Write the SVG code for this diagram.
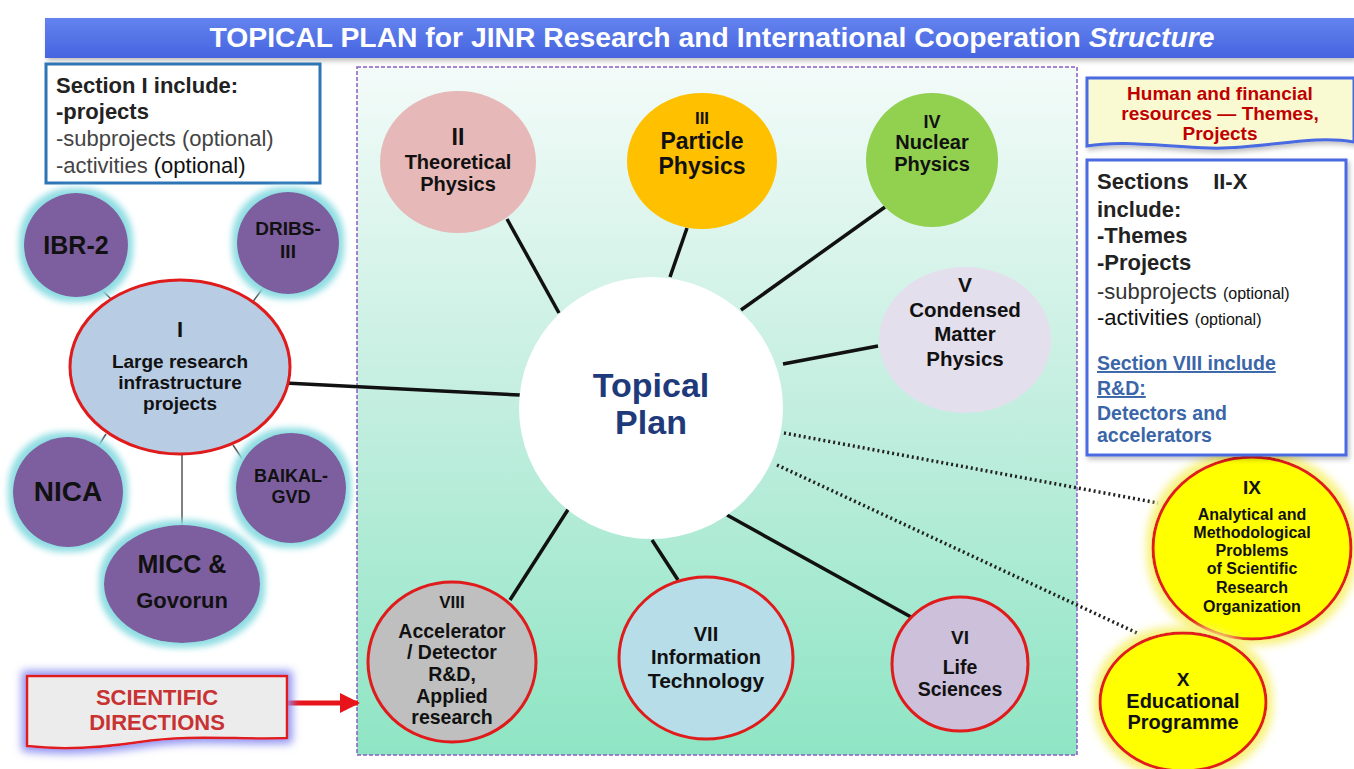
<svg xmlns="http://www.w3.org/2000/svg" width="1354" height="769" viewBox="0 0 1354 769">
<defs>
<linearGradient id="titleG" x1="0" y1="0" x2="0" y2="1"><stop offset="0" stop-color="#6383ee"/><stop offset="1" stop-color="#4664e0"/></linearGradient>
<linearGradient id="panelG" x1="0" y1="0" x2="0" y2="1"><stop offset="0" stop-color="#f3fbf9"/><stop offset="0.5" stop-color="#c2eedf"/><stop offset="1" stop-color="#8ee5c4"/></linearGradient>
<filter id="cyanGlow" x="-30%" y="-30%" width="160%" height="160%">
<feMorphology in="SourceAlpha" operator="dilate" radius="5" result="d"/>
<feGaussianBlur in="d" stdDeviation="3" result="b"/>
<feFlood flood-color="#8fdde3"/><feComposite in2="b" operator="in" result="g"/>
<feMerge><feMergeNode in="g"/><feMergeNode in="SourceGraphic"/></feMerge></filter>
<filter id="yellowGlow" x="-30%" y="-30%" width="160%" height="160%">
<feMorphology in="SourceAlpha" operator="dilate" radius="5" result="d"/>
<feGaussianBlur in="d" stdDeviation="4" result="b"/>
<feFlood flood-color="#f7f27a"/><feComposite in2="b" operator="in" result="g"/>
<feMerge><feMergeNode in="g"/><feMergeNode in="SourceGraphic"/></feMerge></filter>
<filter id="blueGlow" x="-20%" y="-40%" width="140%" height="180%">
<feMorphology in="SourceAlpha" operator="dilate" radius="4" result="d"/>
<feGaussianBlur in="d" stdDeviation="4" result="b"/>
<feFlood flood-color="#8f92f0"/><feComposite in2="b" operator="in" result="g"/>
<feMerge><feMergeNode in="g"/><feMergeNode in="SourceGraphic"/></feMerge></filter>
<filter id="shadow" x="-20%" y="-20%" width="140%" height="140%">
<feGaussianBlur in="SourceAlpha" stdDeviation="2.5"/><feOffset dx="2" dy="3" result="s"/>
<feFlood flood-color="#000" flood-opacity="0.25"/><feComposite in2="s" operator="in" result="sh"/>
<feMerge><feMergeNode in="sh"/><feMergeNode in="SourceGraphic"/></feMerge></filter>
<marker id="redArrow" viewBox="0 0 10 10" refX="9" refY="5" markerWidth="4" markerHeight="4" orient="auto"><path d="M0,0 L10,5 L0,10 z" fill="#e8141c"/></marker>
</defs>
<style>
text{font-family:"Liberation Sans",Arial,sans-serif;font-weight:bold;fill:#111;text-anchor:middle}
.l{text-anchor:start}
.reg{font-weight:normal}
.purple{fill:#7d5fa0}
.cyan{filter:url(#cyanGlow)}
.sub{stroke:#555;stroke-width:1.5}
.main{stroke:#111;stroke-width:3.5}
.dot{stroke:#222;stroke-width:3.5;stroke-dasharray:2 3}
.redring{stroke:#e01b1b;stroke-width:3}
</style>
<rect x="0" y="0" width="1354" height="769" fill="#ffffff"/>

<g id="title">
<rect x="45" y="18" width="1309" height="40" fill="url(#titleG)" filter="url(#shadow)"/>
<text x="712" y="47" font-size="27" style="fill:#fff" textLength="1005" lengthAdjust="spacingAndGlyphs">TOPICAL PLAN for JINR Research and International Cooperation <tspan font-style="italic">Structure</tspan></text>
</g>

<g id="panel">
<rect x="357" y="67" width="720" height="688" fill="url(#panelG)" stroke="#8a5cc8" stroke-width="1.5" stroke-dasharray="4 2"/>
</g>

<g id="connectors">
<line class="main" x1="285" y1="383" x2="520" y2="395"/>
<line class="sub" x1="100" y1="288" x2="112" y2="300"/>
<line class="sub" x1="263" y1="288" x2="252" y2="303"/>
<line class="sub" x1="99" y1="445" x2="106" y2="434"/>
<line class="sub" x1="233" y1="445" x2="243" y2="460"/>
<line class="sub" x1="182" y1="453" x2="182" y2="525"/>
<line class="main" x1="507" y1="219" x2="559" y2="313"/>
<line class="main" x1="687" y1="228" x2="670" y2="277"/>
<line class="main" x1="885" y1="207" x2="741" y2="310"/>
<line class="main" x1="878" y1="346" x2="783" y2="364"/>
<line class="main" x1="569" y1="508" x2="510" y2="600"/>
<line class="main" x1="652" y1="540" x2="678" y2="580"/>
<line class="main" x1="727" y1="515" x2="911" y2="617"/>
<line class="dot" x1="784" y1="433" x2="1158" y2="503"/>
<line class="dot" x1="777" y1="465" x2="1137" y2="633"/>
<line x1="287" y1="703" x2="358" y2="703" stroke="#e8141c" stroke-width="5" marker-end="url(#redArrow)"/>
</g>

<g id="section1-box">
<rect x="46" y="64" width="274" height="119" fill="#fff" stroke="#2e75b6" stroke-width="3"/>
<text class="l" x="56" y="93" font-size="22" style="fill:#222">Section I include:</text>
<text class="l" x="56" y="119" font-size="22" style="fill:#222">-projects</text>
<text class="l reg" x="56" y="146" font-size="22" style="fill:#444">-subprojects (optional)</text>
<text class="l reg" x="56" y="173" font-size="22" style="fill:#444">-activities <tspan style="fill:#111">(optional)</tspan></text>
</g>

<g id="node-ibr2"><circle class="purple cyan" cx="76" cy="245" r="52"/><text x="76" y="254" font-size="25">IBR-2</text></g>
<g id="node-dribs"><circle class="purple cyan" cx="288" cy="243" r="51"/><text x="288" y="235" font-size="19">DRIBS-</text><text x="288" y="258" font-size="19">III</text></g>
<g id="node-nica"><circle class="purple cyan" cx="68" cy="492" r="55"/><text x="68" y="501" font-size="28">NICA</text></g>
<g id="node-baikal"><circle class="purple cyan" cx="291" cy="488" r="55"/><text x="291" y="482" font-size="18">BAIKAL-</text><text x="291" y="503" font-size="18">GVD</text></g>
<g id="node-micc"><ellipse class="purple cyan" cx="182" cy="584" rx="78" ry="59"/><text x="182" y="573" font-size="25">MICC &amp;</text><text x="182" y="608" font-size="22">Govorun</text></g>

<g id="node-I">
<ellipse cx="180" cy="367" rx="110" ry="87" fill="#b8cce4" class="redring"/>
<text x="180" y="337" font-size="22">I</text>
<text x="180" y="368" font-size="19">Large research</text>
<text x="180" y="389" font-size="19">infrastructure</text>
<text x="180" y="410" font-size="19">projects</text>
</g>

<g id="node-scidir">
<path d="M27,676 H287 V738 C240,740 190,734 140,742 C100,748 60,750 27,746 Z" fill="#ececec" stroke="#e01b1b" stroke-width="2.5" filter="url(#blueGlow)"/>
<text x="157" y="705" font-size="22" style="fill:#c83232">SCIENTIFIC</text>
<text x="157" y="730" font-size="22" style="fill:#c83232">DIRECTIONS</text>
</g>

<g id="node-II">
<ellipse cx="458" cy="162" rx="78" ry="71" fill="#e6b8b7"/>
<text x="458" y="145" font-size="23">II</text>
<text x="458" y="169" font-size="20">Theoretical</text>
<text x="458" y="191" font-size="20">Physics</text>
</g>
<g id="node-III">
<ellipse cx="702" cy="161" rx="75" ry="68" fill="#ffc000"/>
<text x="702" y="124" font-size="17">III</text>
<text x="702" y="149" font-size="23">Particle</text>
<text x="702" y="174" font-size="23">Physics</text>
</g>
<g id="node-IV">
<ellipse cx="932" cy="160" rx="66" ry="67" fill="#92d050"/>
<text x="932" y="128" font-size="18">IV</text>
<text x="932" y="149" font-size="20">Nuclear</text>
<text x="932" y="171" font-size="20">Physics</text>
</g>
<g id="node-V">
<ellipse cx="965" cy="340" rx="86" ry="73" fill="#e4dfec"/>
<text x="965" y="292" font-size="21">V</text>
<text x="965" y="317" font-size="20.5">Condensed</text>
<text x="965" y="341" font-size="20.5">Matter</text>
<text x="965" y="366" font-size="20.5">Physics</text>
</g>

<g id="node-topical">
<ellipse cx="651" cy="408" rx="132" ry="131" fill="#ffffff"/>
<text x="651" y="397" font-size="34" style="fill:#1f3a7a">Topical</text>
<text x="651" y="434" font-size="34" style="fill:#1f3a7a">Plan</text>
</g>

<g id="node-VIII">
<ellipse cx="452" cy="662" rx="84" ry="80" fill="#bfbfbf" class="redring"/>
<text x="452" y="608" font-size="17">VIII</text>
<text x="452" y="638" font-size="19.5">Accelerator</text>
<text x="452" y="659" font-size="19.5">/ Detector</text>
<text x="452" y="681" font-size="19.5">R&amp;D,</text>
<text x="452" y="703" font-size="19.5">Applied</text>
<text x="452" y="724" font-size="19.5">research</text>
</g>
<g id="node-VII">
<ellipse cx="706" cy="658" rx="87" ry="81" fill="#b7dde8" class="redring"/>
<text x="706" y="641" font-size="20">VII</text>
<text x="706" y="664" font-size="20">Information</text>
<text x="706" y="688" font-size="21">Technology</text>
</g>
<g id="node-VI">
<ellipse cx="960" cy="664" rx="68" ry="67" fill="#ccc0da" class="redring"/>
<text x="960" y="644" font-size="19">VI</text>
<text x="960" y="674" font-size="19.5">Life</text>
<text x="960" y="696" font-size="19.5">Sciences</text>
</g>

<g id="node-IX">
<ellipse cx="1252" cy="548" rx="99" ry="91" fill="#ffff00" stroke="#e01b1b" stroke-width="3" filter="url(#yellowGlow)"/>
<text x="1252" y="494" font-size="19">IX</text>
<text x="1252" y="520" font-size="16">Analytical and</text>
<text x="1252" y="538" font-size="16">Methodological</text>
<text x="1252" y="556" font-size="16">Problems</text>
<text x="1252" y="574" font-size="16">of Scientific</text>
<text x="1252" y="593" font-size="16">Research</text>
<text x="1252" y="612" font-size="16">Organization</text>
</g>
<g id="node-X">
<ellipse cx="1183" cy="702" rx="83" ry="69" fill="#ffff00" stroke="#e01b1b" stroke-width="3" filter="url(#yellowGlow)"/>
<text x="1183" y="686" font-size="19">X</text>
<text x="1183" y="708" font-size="20">Educational</text>
<text x="1183" y="729" font-size="20">Programme</text>
</g>

<g id="human-box">
<path d="M1087,78 H1354 V142 C1310,134 1260,150 1210,148 C1160,146 1120,140 1087,146 Z" fill="#fafad2" stroke="#4a6be0" stroke-width="3" filter="url(#shadow)"/>
<text x="1220" y="100" font-size="19" style="fill:#c00000">Human and financial</text>
<text x="1220" y="120" font-size="19" style="fill:#c00000">resources — Themes,</text>
<text x="1220" y="140" font-size="19" style="fill:#c00000">Projects</text>
</g>

<g id="sections-box">
<rect x="1087" y="160" width="259" height="295" fill="#fff" stroke="#4a6be0" stroke-width="3" filter="url(#shadow)"/>
<text class="l" x="1097" y="189" font-size="22" style="fill:#222" xml:space="preserve">Sections    II-X</text>
<text class="l" x="1097" y="217" font-size="22" style="fill:#222">include:</text>
<text class="l" x="1097" y="243" font-size="22" style="fill:#222">-Themes</text>
<text class="l" x="1097" y="270" font-size="22" style="fill:#222">-Projects</text>
<text class="l reg" x="1097" y="299" font-size="22" style="fill:#333">-subprojects <tspan font-size="16" style="fill:#111">(optional)</tspan></text>
<text class="l reg" x="1097" y="325" font-size="22" style="fill:#111">-activities <tspan font-size="16">(optional)</tspan></text>
<text class="l" x="1097" y="370" font-size="19.5" style="fill:#3a66a8" text-decoration="underline">Section VIII include</text>
<text class="l" x="1097" y="395" font-size="19.5" style="fill:#3a66a8" text-decoration="underline">R&amp;D:</text>
<text class="l" x="1097" y="420" font-size="19.5" style="fill:#3a66a8">Detectors and</text>
<text class="l" x="1097" y="442" font-size="19.5" style="fill:#3a66a8">accelerators</text>
</g>
</svg>
